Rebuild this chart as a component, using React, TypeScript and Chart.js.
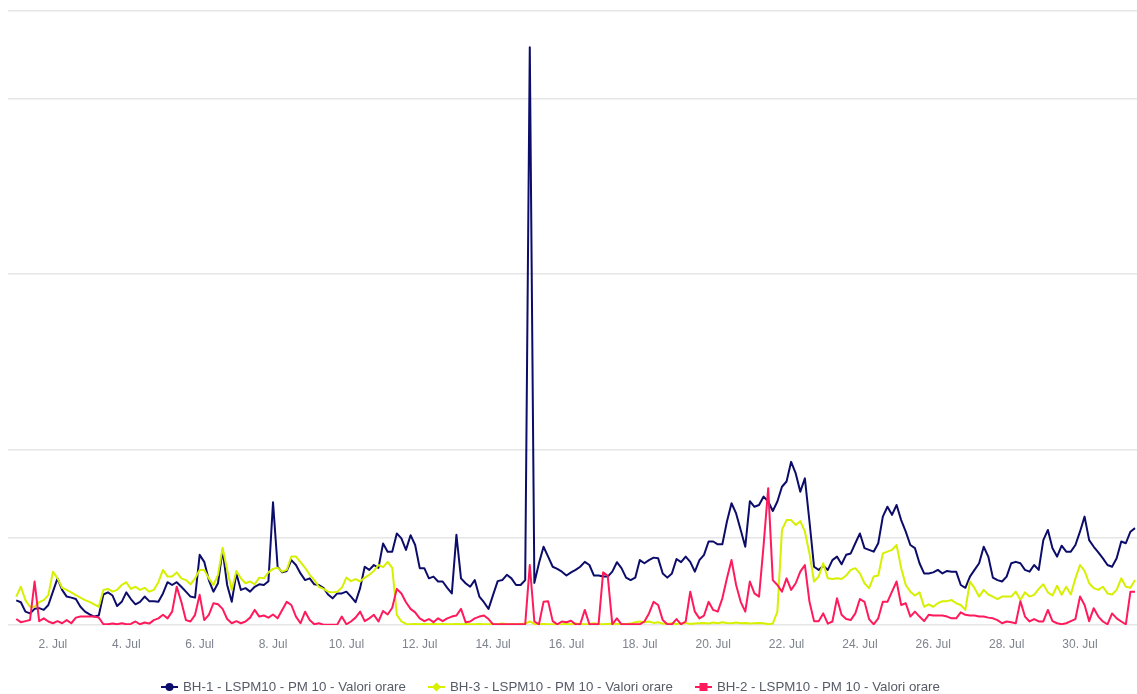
import React, { useEffect, useRef } from 'react';
import { Chart, registerables } from 'chart.js';

Chart.register(...registerables);

// Hourly PM10 series sampled every 3 hours, starting 1 Jul 00:00
const STEP_HOURS = 3;

const bh1Values = [
  7, 6.5, 3.8, 3.3, 4.6, 4.8, 4.3, 5.7, 9.5, 13.3,
  10, 8.1, 7.8, 7.4, 5.2, 3.8, 3, 2.4, 2.7, 8.7,
  9.3, 8.4, 5.4, 6.6, 9.3, 7.4, 5.9, 6.6, 8.1, 6.8,
  6.8, 6.6, 9, 12.2, 11.4, 12.2, 10.9, 9.5, 8.1, 7.8,
  20, 18, 12.8, 9.5, 11.9, 21.4, 11.4, 6.6, 14.7, 10,
  10.5, 9.5, 10.9, 11.6, 11.4, 12.5, 35, 16.6, 15, 15.4,
  18.5, 17.1, 14.7, 12.8, 13.3, 11.6, 11.4, 10.6, 8.7, 7.6,
  9, 9, 9.5, 8.1, 6.5, 10.5, 16.6, 15.7, 17.1, 16.3,
  23.2, 20.9, 20.9, 26.1, 24.7, 21.4, 25.6, 22.8, 16.2, 16.2,
  13.3, 13.8, 12.4, 12.4, 10.6, 9, 25.7, 13.3, 11.9, 10.9,
  12.8, 8.1, 6.5, 4.6, 8.6, 12.5, 12.8, 14.3, 13.3, 11.4,
  11.4, 12.8, 164.7, 12, 17.6, 22.3, 19.5, 16.6, 16, 15.2,
  14.1, 15, 15.7, 16.6, 18, 17.1, 14.1, 14.1, 13.8, 13.8,
  15.2, 17.9, 16.2, 13.5, 12.8, 13.5, 18.5, 17.6, 18.5, 19.2,
  19, 14.7, 13.5, 14.7, 18.8, 17.9, 19.5, 18, 15.2, 18.5,
  20, 23.8, 23.8, 23, 23, 29.5, 34.7, 31.8, 27.1, 22.3,
  35.3, 33.7, 34.2, 36.6, 35.2, 32.5, 35.2, 39.4, 40.9, 46.5,
  43.2, 38, 41.8, 29.5, 16.6, 15.7, 16.9, 15.7, 18.5, 19.5,
  17.3, 20, 20.4, 23.3, 26.1, 21.9, 21.4, 20.9, 23.3, 30.9,
  33.7, 31.4, 34.2, 29.9, 26.6, 22.8, 21.9, 17.6, 14.7, 14.7,
  15, 15.7, 14.7, 15.4, 15.2, 15.2, 11.4, 10.6, 13.8, 15.7,
  17.6, 22.3, 19.5, 13.5, 12.8, 12.4, 13.8, 17.6, 18, 17.6,
  15.7, 15.2, 17.1, 15.7, 24.2, 27.1, 21.9, 19.5, 22.6, 20.9,
  20.9, 22.8, 26.6, 30.9, 24.2, 22.3, 20.7, 19, 17.1, 16.6,
  19, 23.8, 23.3, 26.6, 27.6,
];

const bh3Values = [
  8.1, 10.9, 7.1, 5.2, 5.2, 6.5, 7.1, 8.5, 15.2, 13.3,
  10.6, 10, 9.3, 8.5, 7.8, 7.1, 6.6, 5.9, 5.2, 10,
  10.3, 9.5, 10, 11.4, 12.2, 10.3, 10.9, 10, 10.6, 9.5,
  10, 12.2, 15.7, 13.8, 13.8, 15, 13.3, 12.8, 11.6, 13.3,
  15.7, 15.7, 13.3, 11.4, 14.3, 22, 15.7, 10, 15.4, 13.3,
  11.9, 12.4, 11.6, 13.5, 13.3, 15, 16, 16.3, 15.2, 15.7,
  19.5, 19.5, 17.9, 16.3, 14.3, 12.8, 10.9, 10.3, 9.5, 9.3,
  9.5, 10.6, 13.5, 12.5, 13.1, 12.4, 13.5, 14.3, 15.4, 17.1,
  16.5, 18, 16.3, 2.9, 1, 0.3, 0.2, 0.3, 0.2, 0.3,
  0.2, 0.3, 0.2, 0.3, 0.2, 0.2, 0.3, 0.2, 0.3, 0.2,
  0.2, 0.3, 0.2, 0.2, 0.3, 0.2, 0.4, 0.2, 0.3, 0.2,
  0.3, 0.4, 1, 0.3, 0.2, 0.3, 0.2, 0.2, 0.3, 0.2,
  0.3, 0.2, 0.4, 0.3, 0.2, 0.3, 0.5, 0.3, 0.2, 0.3,
  0.4, 0.3, 0.2, 0.3, 0.4, 0.8, 1, 0.8, 1, 0.6,
  0.8, 0.4, 0.3, 0.5, 0.3, 0.4, 0.6, 0.3, 0.4, 0.5,
  0.6, 0.4, 0.7, 0.5, 0.8, 0.6, 0.5, 0.7, 0.5, 0.6,
  0.4, 0.5, 0.6, 0.5, 0.2, 0.4, 3.8, 27.1, 29.9, 29.9,
  28.5, 29.6, 26.6, 20.4, 12.4, 13.8, 17.6, 13.3, 13.1, 13.3,
  13.1, 14.1, 15.7, 16.2, 14.7, 11.9, 10.5, 13.8, 14.1, 20.4,
  20.9, 21.4, 22.8, 16.2, 11.4, 9.5, 8.4, 9.3, 5.2, 5.9,
  5.2, 6.2, 6.8, 6.8, 7.1, 6.2, 5.7, 4.3, 12.4, 10.5,
  8.1, 10, 8.7, 8.1, 7.4, 8.1, 8.1, 8.1, 9.5, 7.1,
  9.3, 8.1, 8.6, 10.3, 11.6, 9.3, 8.4, 11.2, 8.6, 10.9,
  8.7, 13.3, 17.1, 15.4, 11.9, 10.5, 10, 10.9, 9, 8.7,
  10, 13.3, 10.9, 10.6, 12.8,
];

const bh2Values = [
  1.7, 0.8, 1.1, 1.4, 12.4, 1.1, 1.9, 1, 0.5, 1.1,
  0.5, 1.4, 0.5, 2.1, 2.4, 2.4, 2.4, 2.4, 2.1, 0.2,
  0.2, 0.4, 0.2, 0.5, 0.2, 0.3, 1, 0.2, 0.7, 0.4,
  1.4, 1.9, 2.9, 1.9, 3.8, 10.9, 6.6, 1.4, 1, 2.9,
  8.6, 1.4, 2.9, 6.2, 5.9, 4.6, 1.7, 0.5, 1.1, 0.5,
  1, 2.1, 4.3, 2.4, 2.7, 2.1, 3, 1.9, 4.3, 6.6,
  5.7, 2.4, 0.5, 3.8, 1.4, 0.2, 0.5, 0.1, 0.1, 0.1,
  0.1, 2.4, 0.2, 1, 2.1, 3.8, 1.1, 1.9, 2.9, 1,
  4, 3, 4.9, 10.3, 9, 6.5, 4.6, 3.6, 1.9, 1.1,
  1.7, 0.8, 1.9, 1.1, 1.9, 2.4, 2.7, 4.6, 0.8, 1,
  1.9, 2.4, 2.7, 1.7, 0.2, 0.2, 0.2, 0.2, 0.2, 0.2,
  0.2, 0.2, 17.1, 1, 0.2, 6.6, 6.8, 1.1, 0.2, 1,
  0.8, 1.2, 0.2, 0.2, 4.3, 0.2, 0.2, 0.2, 15, 14,
  0.2, 1.9, 0.2, 0.2, 0.2, 0.2, 0.2, 1, 3.3, 6.6,
  5.7, 1.4, 0.2, 0.2, 1.7, 0.2, 1, 9.5, 3.8, 1.9,
  2.7, 6.6, 4.3, 3.8, 7.6, 13.3, 18.5, 11.4, 6.6, 3.8,
  12.4, 9, 8.1, 22.8, 39, 12.8, 11.4, 9.5, 13.3, 10,
  11.9, 15.2, 17.1, 6.6, 1.1, 1.1, 3.3, 0.4, 1, 7.6,
  2.9, 1.7, 1.4, 3.3, 7.4, 6.6, 1.7, 0.2, 1.9, 6.6,
  6.6, 9.5, 12.4, 5.7, 6.2, 2.4, 3.8, 2.4, 1.1, 2.9,
  2.7, 2.7, 2.7, 2.4, 1.9, 1.9, 3.6, 2.9, 2.7, 2.7,
  2.4, 2.4, 2.1, 1.9, 1.4, 0.5, 1, 0.8, 0.5, 6.8,
  2.4, 1, 1.7, 1, 1, 4.3, 1.1, 0.5, 0.2, 0.5,
  1.1, 1.7, 8.1, 5.7, 1.1, 4.8, 2.4, 1, 0.2, 3.3,
  1.9, 1, 0.2, 9.5, 9.5,
];

const seriesNames = [
  'BH-1 - LSPM10 - PM 10 - Valori orare',
  'BH-3 - LSPM10 - PM 10 - Valori orare',
  'BH-2 - LSPM10 - PM 10 - Valori orare',
];
const seriesColors = ['#0c0c6a', '#d6f000', '#ff1a5c'];

const xTickDays = [2, 4, 6, 8, 10, 12, 14, 16, 18, 20, 22, 24, 26, 28, 30];
const xTickLabels = xTickDays.map((d) => `${d}. Jul`);
const yTickValues = [0, 25, 50, 100, 150, 175];

const X_MIN = -5.4;
const X_MAX = 733.3;

const toPoints = (vals: number[]) => vals.map((v, i) => ({ x: i * STEP_HOURS, y: v }));

const FONT = '"Liberation Sans", Arial, Helvetica, sans-serif';

function LegendSymbol({ kind, color }: { kind: string; color: string }) {
  return (
    <svg width={17} height={12} style={{ display: 'block' }}>
      <line x1={0} y1={6} x2={17} y2={6} stroke={color} strokeWidth={2} />
      {kind === 'circle' && <circle cx={8.5} cy={6} r={4} fill={color} />}
      {kind === 'diamond' && <path d="M8.5 1.5 L13 6 L8.5 10.5 L4 6 Z" fill={color} />}
      {kind === 'square' && <rect x={4.5} y={2} width={8} height={8} fill={color} />}
    </svg>
  );
}

export default function App() {
  const canvasRef = useRef<HTMLCanvasElement | null>(null);

  useEffect(() => {
    if (!canvasRef.current) return;
    const tickPositions = xTickDays.map((d) => (d - 1) * 24);
    const chart = new Chart(canvasRef.current, {
      type: 'line',
      data: {
        datasets: [
          { label: seriesNames[0], data: toPoints(bh1Values), borderColor: seriesColors[0], backgroundColor: seriesColors[0], order: 2 },
          { label: seriesNames[1], data: toPoints(bh3Values), borderColor: seriesColors[1], backgroundColor: seriesColors[1], order: 1 },
          { label: seriesNames[2], data: toPoints(bh2Values), borderColor: seriesColors[2], backgroundColor: seriesColors[2], order: 0 },
        ],
      },
      options: {
        animation: false,
        responsive: true,
        maintainAspectRatio: false,
        parsing: true,
        elements: {
          line: { borderWidth: 2, tension: 0, borderJoinStyle: 'round' },
          point: { radius: 0, hoverRadius: 0 },
        },
        layout: { padding: { left: 8, top: 11, right: 0, bottom: 0 } },
        plugins: {
          legend: { display: false },
          tooltip: { enabled: false },
        },
        scales: {
          x: {
            type: 'linear',
            min: X_MIN,
            max: X_MAX,
            afterBuildTicks: (scale: any) => {
              scale.ticks = tickPositions.map((v) => ({ value: v }));
            },
            afterFit: (scale: any) => {
              scale.height = 69;
            },
            ticks: {
              autoSkip: false,
              maxRotation: 0,
              padding: 12,
              color: '#7d828c',
              font: { family: FONT, size: 12 },
              callback: (value: any) => {
                const idx = tickPositions.indexOf(Number(value));
                return idx >= 0 ? xTickLabels[idx] : '';
              },
            },
            grid: { display: false, drawTicks: false },
            border: { display: false },
          },
          y: {
            type: 'linear',
            min: 0,
            max: 175,
            afterBuildTicks: (scale: any) => {
              scale.ticks = yTickValues.map((v) => ({ value: v }));
            },
            ticks: { display: false },
            grid: { color: '#e6e6e6', lineWidth: 1.5, drawTicks: false },
            border: { display: false },
          },
        },
      },
    } as any);
    return () => chart.destroy();
  }, []);

  const kinds = ['circle', 'diamond', 'square'];

  return (
    <div style={{ position: 'fixed', left: 0, top: 0, width: 1137, height: 694, background: '#fff', overflow: 'hidden' }}>
      <canvas ref={canvasRef} style={{ position: 'absolute', left: 0, top: 0, width: 1137, height: 694 }} />
      <div
        style={{
          position: 'absolute',
          left: 161,
          top: 679,
          display: 'flex',
          fontFamily: FONT,
          fontSize: 13.3,
          lineHeight: '16px',
          color: '#565b66',
          whiteSpace: 'nowrap',
        }}
      >
        {seriesNames.map((name, i) => (
          <div key={name} style={{ display: 'flex', alignItems: 'center', width: 267 }}>
            <LegendSymbol kind={kinds[i]} color={seriesColors[i]} />
            <span style={{ marginLeft: 5 }}>{name}</span>
          </div>
        ))}
      </div>
    </div>
  );
}
